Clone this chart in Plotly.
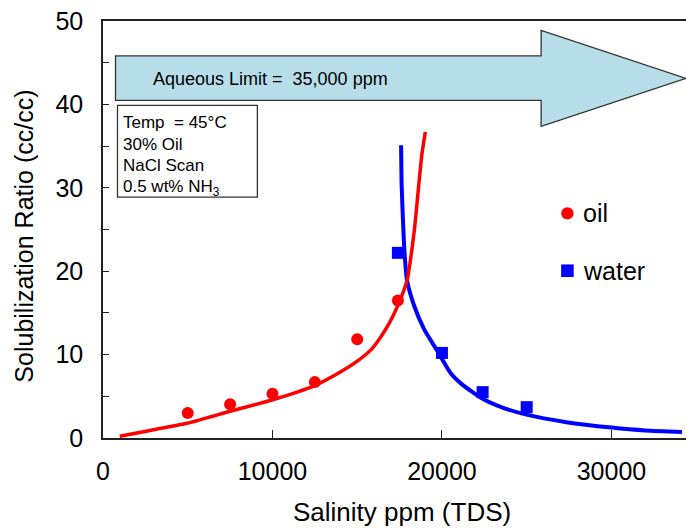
import plotly.graph_objects as go

# ---------------- data ----------------
oil_x = [5000, 7500, 10000, 12500, 15000, 17400]
oil_y = [3.0, 4.05, 5.3, 6.7, 11.85, 16.5]

water_x = [17400, 20000, 22400, 25000]
water_y = [22.2, 10.2, 5.5, 3.7]

oil_fit_x = [990, 3000, 5030, 7500, 9960, 12470, 14000, 14960, 15820, 16350, 16900,
             17420, 17940, 18370, 18620, 18820, 19020]
oil_fit_y = [0.2, 1.0, 1.8, 3.2, 4.55, 6.25, 7.9, 9.15, 10.6, 12.0, 13.8,
             16.0, 18.9, 24.9, 30.1, 34.1, 36.7]

water_fit_x = [17590, 17620, 17700, 17790, 17940, 18370, 18960, 19740, 20540, 21200,
               22400, 23500, 24980, 27340, 30000, 32000, 34160]
water_fit_y = [35.1, 30.5, 26.1, 22.3, 18.9, 15.8, 13.0, 10.4, 7.7, 6.4,
               4.7, 3.7, 2.8, 1.9, 1.25, 0.9, 0.72]

x_ticks = [0, 10000, 20000, 30000]
y_ticks = [0, 10, 20, 30, 40, 50]

arrow_label = "Aqueous Limit =\u00a0 35,000 ppm"
info_lines = ["Temp\u00a0 = 45°C", "30% Oil", "NaCl Scan", "0.5 wt% NH<sub>3</sub>"]
legend_names = ["oil", "water"]

x_title = "Salinity ppm (TDS)"
y_title = "Solubilization Ratio (cc/cc)"

# ---------------- layout geometry ----------------
W, H = 686, 529
ML, MT, MR, MB = 102.5, 20.5, 0, 90.7
X_MAX = 34400
Y_MAX = 50
PW = W - ML - MR
PH = H - MT - MB


def px2x(px):
    return (px - ML) / PW * X_MAX


def px2y(py):
    return (H - MB - py) / PH * Y_MAX


FONT = "Liberation Sans, Arial, sans-serif"
AX = "#222222"
RED = "#ff0000"
BLUE = "#0000ff"

fig = go.Figure()

fig.add_trace(go.Scatter(x=water_fit_x, y=water_fit_y, mode="lines",
                         line=dict(color=BLUE, width=4, shape="spline", smoothing=0.6),
                         showlegend=False, hoverinfo="skip"))
fig.add_trace(go.Scatter(x=oil_fit_x, y=oil_fit_y, mode="lines",
                         line=dict(color=RED, width=3.5, shape="spline", smoothing=0.6),
                         showlegend=False, hoverinfo="skip"))
fig.add_trace(go.Scatter(x=oil_x, y=oil_y, mode="markers", name=legend_names[0],
                         marker=dict(color=RED, size=12, symbol="circle"),
                         showlegend=False))
fig.add_trace(go.Scatter(x=water_x, y=water_y, mode="markers", name=legend_names[1],
                         marker=dict(color=BLUE, size=12, symbol="square"),
                         showlegend=False))

# arrow shape
bx0, bx1, tip = px2x(115), px2x(541), X_MAX
bt, bb = px2y(55.5), px2y(100)
ht, hb = px2y(30), px2y(126)
tipy = px2y(78)
path = (f"M {bx0},{bt} L {bx1},{bt} L {bx1},{ht} L {tip},{tipy} "
        f"L {bx1},{hb} L {bx1},{bb} L {bx0},{bb} Z")
fig.add_shape(type="path", path=path, xref="x", yref="y",
              fillcolor="#b7dde8", line=dict(color="#333333", width=1.3), layer="below")
fig.add_annotation(x=px2x(151), y=px2y(79), xref="x", yref="y", text=arrow_label,
                   showarrow=False, xanchor="left", yanchor="middle",
                   font=dict(family=FONT, size=18, color="black"))

# info box
fig.add_shape(type="rect", x0=px2x(117), x1=px2x(257), y0=px2y(105), y1=px2y(197),
              xref="x", yref="y", fillcolor="white",
              line=dict(color="#333333", width=1.3))
for i, t in enumerate(info_lines):
    fig.add_annotation(x=px2x(121), y=px2y(122 + 21.8 * i), xref="x", yref="y", text=t,
                       showarrow=False, xanchor="left", yanchor="middle",
                       font=dict(family=FONT, size=17, color="black"))

# legend (drawn)
leg_cx = 567.3
leg_cy = [213.3, 270.7]
fig.add_shape(type="circle", xref="x", yref="y",
              x0=px2x(leg_cx - 6.2), x1=px2x(leg_cx + 6.2),
              y0=px2y(leg_cy[0] + 6.2), y1=px2y(leg_cy[0] - 6.2),
              fillcolor=RED, line=dict(width=0))
fig.add_shape(type="rect", xref="x", yref="y",
              x0=px2x(leg_cx - 6.3), x1=px2x(leg_cx + 6.3),
              y0=px2y(leg_cy[1] + 6.3), y1=px2y(leg_cy[1] - 6.3),
              fillcolor=BLUE, line=dict(width=0))
for name, cy in zip(legend_names, leg_cy):
    fig.add_annotation(x=px2x(581), y=px2y(cy), xref="x", yref="y", text=name,
                       showarrow=False, xanchor="left", yanchor="middle",
                       font=dict(family=FONT, size=25, color="black"))

# axis titles
fig.add_annotation(x=px2x(402) / X_MAX, y=-(512 - (H - MB)) / PH, xref="paper", yref="paper",
                   text=x_title, showarrow=False, xanchor="center", yanchor="middle",
                   font=dict(family=FONT, size=26, color="black"))
fig.add_annotation(x=-(ML - 24) / PW, y=(H - MB - 236) / PH, xref="paper", yref="paper",
                   text=y_title, showarrow=False, textangle=-90, xanchor="center",
                   yanchor="middle", font=dict(family=FONT, size=25, color="black"))

fig.update_layout(
    width=W, height=H,
    margin=dict(l=ML, r=MR, t=MT, b=MB, pad=0),
    paper_bgcolor="white", plot_bgcolor="white",
    font=dict(family=FONT, size=25, color="black"),
    showlegend=False,
    xaxis=dict(range=[0, X_MAX], tickvals=x_ticks, ticktext=[str(v) for v in x_ticks],
               ticks="inside", ticklen=8, tickcolor=AX, tickwidth=1.2,
               showline=True, linecolor=AX, linewidth=1.5, mirror=True,
               showgrid=False, zeroline=False, ticklabelstandoff=10,
               tickfont=dict(family=FONT, size=25, color="black")),
    yaxis=dict(range=[0, Y_MAX], tickvals=y_ticks, ticktext=[str(v) for v in y_ticks],
               ticks="inside", ticklen=6, tickcolor=AX, tickwidth=1.2,
               minor=dict(ticks="inside", dtick=5, ticklen=6, tickcolor=AX, tickwidth=1.2),
               showline=True, linecolor=AX, linewidth=1.5, mirror=False,
               showgrid=False, zeroline=False, ticklabelstandoff=13,
               tickfont=dict(family=FONT, size=25, color="black")),
)

fig.write_html("out.html", config={"displayModeBar": False},
               post_script="document.body.style.margin='0';document.body.style.padding='0';")
